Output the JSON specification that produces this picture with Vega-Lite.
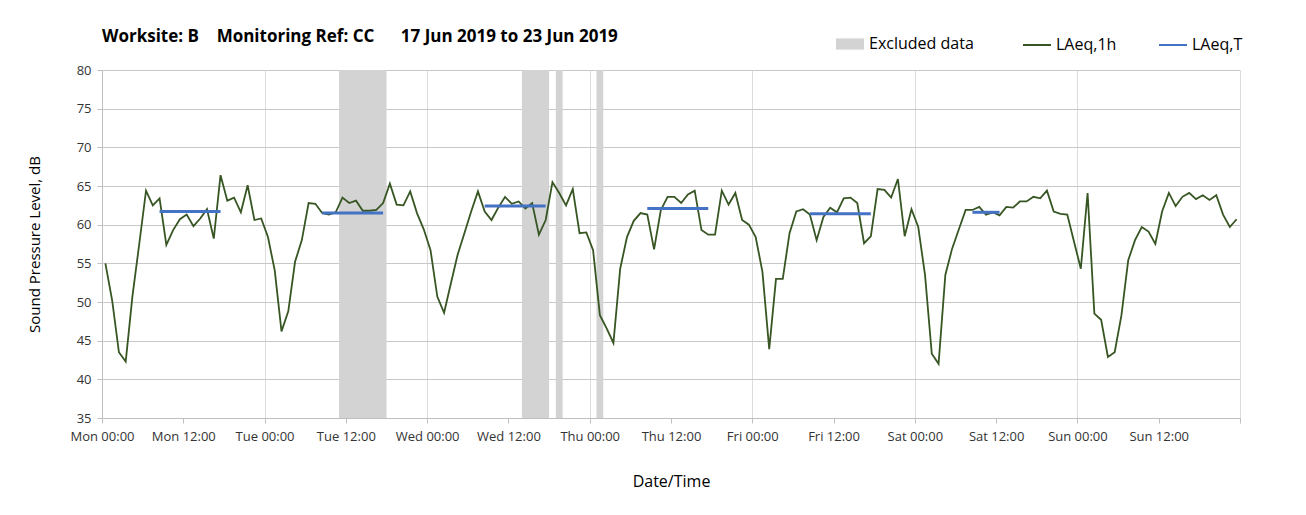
{
  "$schema": "https://vega.github.io/schema/vega-lite/v6.json",
  "width": 1138,
  "height": 348,
  "autosize": {"type": "none"},
  "padding": {"left": 102, "top": 70, "right": 66, "bottom": 97},
  "background": "white",
  "title": {
    "text": "Worksite: B\u00a0\u00a0\u00a0 Monitoring Ref: CC\u00a0\u00a0\u00a0\u00a0\u00a0 17 Jun 2019 to 23 Jun 2019",
    "anchor": "start",
    "frame": "group",
    "font": "Open Sans",
    "fontSize": 17,
    "fontWeight": "bold",
    "color": "#000000",
    "offset": -16
  },
  "datasets": {
    "excl": [
      {"s": 35, "e": 42},
      {"s": 62, "e": 66},
      {"s": 67, "e": 68},
      {"s": 73, "e": 74}
    ],
    "laeqT": [
      {"day": "Mon", "h": 8.5, "v": 61.7}, {"day": "Mon", "h": 17.5, "v": 61.7},
      {"day": "Tue", "h": 32.5, "v": 61.5}, {"day": "Tue", "h": 41.5, "v": 61.5},
      {"day": "Wed", "h": 56.5, "v": 62.4}, {"day": "Wed", "h": 65.5, "v": 62.4},
      {"day": "Thu", "h": 80.5, "v": 62.1}, {"day": "Thu", "h": 89.5, "v": 62.1},
      {"day": "Fri", "h": 104.5, "v": 61.4}, {"day": "Fri", "h": 113.5, "v": 61.4},
      {"day": "Sat", "h": 128.5, "v": 61.6}, {"day": "Sat", "h": 132.5, "v": 61.6}
    ],
    "laeq1h": [
      {"h": 0.5, "v": 55.0}, {"h": 1.5, "v": 50.2}, {"h": 2.5, "v": 43.5}, {"h": 3.5, "v": 42.3},
      {"h": 4.5, "v": 50.8}, {"h": 5.5, "v": 57.5}, {"h": 6.5, "v": 64.4}, {"h": 7.5, "v": 62.5},
      {"h": 8.5, "v": 63.4}, {"h": 9.5, "v": 57.4}, {"h": 10.5, "v": 59.3}, {"h": 11.5, "v": 60.7},
      {"h": 12.5, "v": 61.3}, {"h": 13.5, "v": 59.8}, {"h": 14.5, "v": 60.8}, {"h": 15.5, "v": 62.0},
      {"h": 16.5, "v": 58.2}, {"h": 17.5, "v": 66.4}, {"h": 18.5, "v": 63.1}, {"h": 19.5, "v": 63.5},
      {"h": 20.5, "v": 61.6}, {"h": 21.5, "v": 65.1}, {"h": 22.5, "v": 60.6}, {"h": 23.5, "v": 60.8},
      {"h": 24.5, "v": 58.4}, {"h": 25.5, "v": 54.1}, {"h": 26.5, "v": 46.2}, {"h": 27.5, "v": 48.8},
      {"h": 28.5, "v": 55.2}, {"h": 29.5, "v": 58.0}, {"h": 30.5, "v": 62.8}, {"h": 31.5, "v": 62.7},
      {"h": 32.5, "v": 61.5}, {"h": 33.5, "v": 61.3}, {"h": 34.5, "v": 61.6}, {"h": 35.5, "v": 63.5},
      {"h": 36.5, "v": 62.8}, {"h": 37.5, "v": 63.1}, {"h": 38.5, "v": 61.8}, {"h": 39.5, "v": 61.8},
      {"h": 40.5, "v": 61.9}, {"h": 41.5, "v": 62.8}, {"h": 42.5, "v": 65.3}, {"h": 43.5, "v": 62.6},
      {"h": 44.5, "v": 62.5}, {"h": 45.5, "v": 64.3}, {"h": 46.5, "v": 61.5}, {"h": 47.5, "v": 59.4},
      {"h": 48.5, "v": 56.7}, {"h": 49.5, "v": 50.7}, {"h": 50.5, "v": 48.6}, {"h": 51.5, "v": 52.4},
      {"h": 52.5, "v": 56.1}, {"h": 53.5, "v": 58.9}, {"h": 54.5, "v": 61.7}, {"h": 55.5, "v": 64.3},
      {"h": 56.5, "v": 61.7}, {"h": 57.5, "v": 60.6}, {"h": 58.5, "v": 62.2}, {"h": 59.5, "v": 63.6},
      {"h": 60.5, "v": 62.7}, {"h": 61.5, "v": 63.0}, {"h": 62.5, "v": 62.1}, {"h": 63.5, "v": 62.8},
      {"h": 64.5, "v": 58.7}, {"h": 65.5, "v": 60.6}, {"h": 66.5, "v": 65.5}, {"h": 67.5, "v": 64.1},
      {"h": 68.5, "v": 62.5}, {"h": 69.5, "v": 64.6}, {"h": 70.5, "v": 58.9}, {"h": 71.5, "v": 59.0},
      {"h": 72.5, "v": 56.7}, {"h": 73.5, "v": 48.3}, {"h": 74.5, "v": 46.6}, {"h": 75.5, "v": 44.7},
      {"h": 76.5, "v": 54.3}, {"h": 77.5, "v": 58.4}, {"h": 78.5, "v": 60.5}, {"h": 79.5, "v": 61.5},
      {"h": 80.5, "v": 61.3}, {"h": 81.5, "v": 56.8}, {"h": 82.5, "v": 61.9}, {"h": 83.5, "v": 63.6},
      {"h": 84.5, "v": 63.6}, {"h": 85.5, "v": 62.8}, {"h": 86.5, "v": 63.9}, {"h": 87.5, "v": 64.4},
      {"h": 88.5, "v": 59.3}, {"h": 89.5, "v": 58.7}, {"h": 90.5, "v": 58.7}, {"h": 91.5, "v": 64.4},
      {"h": 92.5, "v": 62.6}, {"h": 93.5, "v": 64.1}, {"h": 94.5, "v": 60.6}, {"h": 95.5, "v": 60.0},
      {"h": 96.5, "v": 58.4}, {"h": 97.5, "v": 53.9}, {"h": 98.5, "v": 43.9}, {"h": 99.5, "v": 53.0},
      {"h": 100.5, "v": 53.0}, {"h": 101.5, "v": 58.9}, {"h": 102.5, "v": 61.7}, {"h": 103.5, "v": 62.0},
      {"h": 104.5, "v": 61.3}, {"h": 105.5, "v": 58.0}, {"h": 106.5, "v": 61.0}, {"h": 107.5, "v": 62.2},
      {"h": 108.5, "v": 61.6}, {"h": 109.5, "v": 63.4}, {"h": 110.5, "v": 63.5}, {"h": 111.5, "v": 62.8},
      {"h": 112.5, "v": 57.6}, {"h": 113.5, "v": 58.5}, {"h": 114.5, "v": 64.6}, {"h": 115.5, "v": 64.5},
      {"h": 116.5, "v": 63.5}, {"h": 117.5, "v": 65.9}, {"h": 118.5, "v": 58.5}, {"h": 119.5, "v": 62.0},
      {"h": 120.5, "v": 59.7}, {"h": 121.5, "v": 53.5}, {"h": 122.5, "v": 43.3}, {"h": 123.5, "v": 42.0},
      {"h": 124.5, "v": 53.5}, {"h": 125.5, "v": 56.9}, {"h": 126.5, "v": 59.4}, {"h": 127.5, "v": 61.9},
      {"h": 128.5, "v": 61.9}, {"h": 129.5, "v": 62.3}, {"h": 130.5, "v": 61.3}, {"h": 131.5, "v": 61.6},
      {"h": 132.5, "v": 61.2}, {"h": 133.5, "v": 62.3}, {"h": 134.5, "v": 62.2}, {"h": 135.5, "v": 63.0},
      {"h": 136.5, "v": 63.0}, {"h": 137.5, "v": 63.6}, {"h": 138.5, "v": 63.4}, {"h": 139.5, "v": 64.4},
      {"h": 140.5, "v": 61.7}, {"h": 141.5, "v": 61.4}, {"h": 142.5, "v": 61.3}, {"h": 143.5, "v": 57.8},
      {"h": 144.5, "v": 54.3}, {"h": 145.5, "v": 64.1}, {"h": 146.5, "v": 48.5}, {"h": 147.5, "v": 47.7},
      {"h": 148.5, "v": 42.9}, {"h": 149.5, "v": 43.5}, {"h": 150.5, "v": 48.3}, {"h": 151.5, "v": 55.4},
      {"h": 152.5, "v": 58.0}, {"h": 153.5, "v": 59.7}, {"h": 154.5, "v": 59.1}, {"h": 155.5, "v": 57.5},
      {"h": 156.5, "v": 61.7}, {"h": 157.5, "v": 64.1}, {"h": 158.5, "v": 62.4}, {"h": 159.5, "v": 63.6},
      {"h": 160.5, "v": 64.1}, {"h": 161.5, "v": 63.3}, {"h": 162.5, "v": 63.8}, {"h": 163.5, "v": 63.2},
      {"h": 164.5, "v": 63.8}, {"h": 165.5, "v": 61.3}, {"h": 166.5, "v": 59.7}, {"h": 167.5, "v": 60.7}
    ]
  },
  "config": {
    "view": {"stroke": null},
    "axis": {
      "labelFont": "Open Sans",
      "titleFont": "Open Sans",
      "labelColor": "#333333",
      "titleColor": "#000000",
      "titleFontWeight": "normal",
      "domainColor": "#bfbfbf",
      "tickColor": "#bfbfbf",
      "tickSize": 5,
      "labelFontSize": 13,
      "labelOverlap": false,
      "labelFlush": false
    },
    "legend": {
      "labelFont": "Open Sans",
      "labelFontSize": 16,
      "labelColor": "#000000",
      "orient": "none",
      "direction": "horizontal"
    }
  },
  "layer": [
    {
      "data": {"name": "excl"},
      "mark": {"type": "rect"},
      "encoding": {
        "x": {
          "field": "s",
          "type": "quantitative",
          "scale": {"domain": [0, 168], "nice": false, "zero": false},
          "axis": {
            "values": [0, 12, 24, 36, 48, 60, 72, 84, 96, 108, 120, 132, 144, 156, 168],
            "labelExpr": "datum.value >= 168 ? '' : ['Mon','Tue','Wed','Thu','Fri','Sat','Sun'][floor(datum.value / 24)] + (datum.value % 24 == 0 ? ' 00:00' : ' 12:00')",
            "grid": true,
            "gridColor": {"condition": {"test": "datum.value % 24 == 0", "value": "#dcdcdc"}, "value": "transparent"},
            "labelPadding": 7,
            "title": "Date/Time",
            "titleFontSize": 16,
            "titlePadding": 30
          }
        },
        "x2": {"field": "e"},
        "y": {
          "datum": 35,
          "type": "quantitative",
          "scale": {"domain": [35, 80], "nice": false, "zero": false},
          "axis": {
            "values": [35, 40, 45, 50, 55, 60, 65, 70, 75, 80],
            "grid": true,
            "gridColor": "#c8c8c8",
            "labelPadding": 6,
            "title": "Sound Pressure Level, dB",
            "titleFontSize": 15,
            "titlePadding": 34
          }
        },
        "y2": {"datum": 80},
        "fill": {
          "datum": "Excluded data",
          "type": "nominal",
          "scale": {"domain": ["Excluded data"], "range": ["#d3d3d3"]},
          "legend": {
            "title": null,
            "legendX": 734,
            "legendY": -40,
            "symbolType": "M-1,-0.4H1V0.4H-1Z",
            "symbolSize": 784,
            "symbolStrokeWidth": 0,
            "labelOffset": 5
          }
        }
      }
    },
    {
      "data": {"name": "laeq1h"},
      "mark": {"type": "line", "strokeWidth": 1.8, "interpolate": "linear"},
      "encoding": {
        "x": {
          "field": "h",
          "type": "quantitative",
          "axis": {
            "values": [0, 12, 24, 36, 48, 60, 72, 84, 96, 108, 120, 132, 144, 156, 168],
            "labelExpr": "datum.value >= 168 ? '' : ['Mon','Tue','Wed','Thu','Fri','Sat','Sun'][floor(datum.value / 24)] + (datum.value % 24 == 0 ? ' 00:00' : ' 12:00')",
            "grid": true,
            "gridColor": {"condition": {"test": "datum.value % 24 == 0", "value": "#dcdcdc"}, "value": "transparent"},
            "labelPadding": 7,
            "title": "Date/Time",
            "titleFontSize": 16,
            "titlePadding": 30
          }
        },
        "y": {
          "field": "v",
          "type": "quantitative",
          "axis": {
            "values": [35, 40, 45, 50, 55, 60, 65, 70, 75, 80],
            "grid": true,
            "gridColor": "#c8c8c8",
            "labelPadding": 6,
            "title": "Sound Pressure Level, dB",
            "titleFontSize": 15,
            "titlePadding": 34
          }
        },
        "stroke": {
          "datum": "LAeq,1h",
          "type": "nominal",
          "scale": {"domain": ["LAeq,1h", "LAeq,T"], "range": ["#375623", "#4472c4"]},
          "legend": {
            "title": null,
            "legendX": 920,
            "legendY": -40,
            "symbolType": "stroke",
            "symbolSize": 784,
            "symbolStrokeWidth": 2,
            "labelOffset": 4,
            "columnPadding": 38
          }
        }
      }
    },
    {
      "data": {"name": "laeqT"},
      "mark": {"type": "line", "strokeWidth": 3},
      "encoding": {
        "x": {
          "field": "h",
          "type": "quantitative",
          "axis": {
            "values": [0, 12, 24, 36, 48, 60, 72, 84, 96, 108, 120, 132, 144, 156, 168],
            "labelExpr": "datum.value >= 168 ? '' : ['Mon','Tue','Wed','Thu','Fri','Sat','Sun'][floor(datum.value / 24)] + (datum.value % 24 == 0 ? ' 00:00' : ' 12:00')",
            "grid": true,
            "gridColor": {"condition": {"test": "datum.value % 24 == 0", "value": "#dcdcdc"}, "value": "transparent"},
            "labelPadding": 7,
            "title": "Date/Time",
            "titleFontSize": 16,
            "titlePadding": 30
          }
        },
        "y": {
          "field": "v",
          "type": "quantitative",
          "axis": {
            "values": [35, 40, 45, 50, 55, 60, 65, 70, 75, 80],
            "grid": true,
            "gridColor": "#c8c8c8",
            "labelPadding": 6,
            "title": "Sound Pressure Level, dB",
            "titleFontSize": 15,
            "titlePadding": 34
          }
        },
        "detail": {"field": "day", "type": "nominal"},
        "stroke": {"datum": "LAeq,T", "type": "nominal"}
      }
    }
  ]
}
